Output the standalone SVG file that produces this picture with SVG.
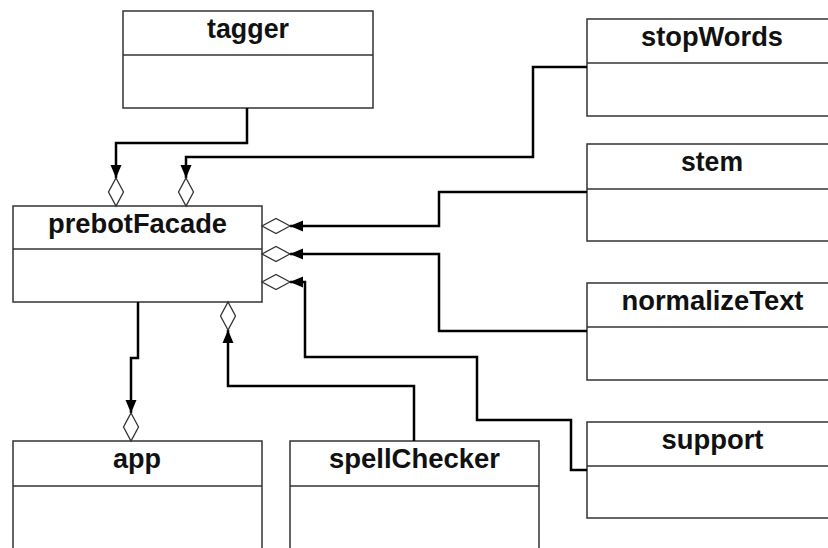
<svg xmlns="http://www.w3.org/2000/svg" width="828" height="548" viewBox="0 0 828 548">
<style>
.box{fill:#fff;stroke:#333;stroke-width:1.5}
.div{stroke:#333;stroke-width:1.5}
.lbl{font-family:"Liberation Sans",Arial,sans-serif;font-weight:bold;font-size:27px;fill:#111;text-anchor:middle}
.conn{fill:none;stroke:#000;stroke-width:2.5;marker-end:url(#agg)}
</style>
<defs>
<marker id="agg" markerUnits="userSpaceOnUse" viewBox="-20 -10 50 20" markerWidth="50" markerHeight="20" refX="0" refY="0" orient="auto" overflow="visible">
<polygon points="-13,-5.5 0,0 -13,5.5" fill="#000"/>
<polygon points="0,0 14,-7.5 28,0 14,7.5" fill="#fff" stroke="#333" stroke-width="1.3"/>
</marker>
</defs>
<rect width="828" height="548" fill="#fff"/>
<g id="tagger">
<rect class="box" x="123" y="11" width="250" height="97"/>
<line class="div" x1="123" y1="55" x2="373" y2="55"/>
<text class="lbl" x="248" y="38" textLength="82" lengthAdjust="spacingAndGlyphs">tagger</text>
</g>
<g id="prebotFacade">
<rect class="box" x="13" y="206" width="249" height="96"/>
<line class="div" x1="13" y1="249" x2="262" y2="249"/>
<text class="lbl" x="137.5" y="233" textLength="179" lengthAdjust="spacingAndGlyphs">prebotFacade</text>
</g>
<g id="stopWords">
<rect class="box" x="587" y="19" width="250" height="97"/>
<line class="div" x1="587" y1="63" x2="837" y2="63"/>
<text class="lbl" x="712" y="46" textLength="142" lengthAdjust="spacingAndGlyphs">stopWords</text>
</g>
<g id="stem">
<rect class="box" x="587" y="144" width="250" height="97"/>
<line class="div" x1="587" y1="189" x2="837" y2="189"/>
<text class="lbl" x="712" y="171" textLength="62" lengthAdjust="spacingAndGlyphs">stem</text>
</g>
<g id="normalizeText">
<rect class="box" x="587" y="283" width="250" height="97"/>
<line class="div" x1="587" y1="327" x2="837" y2="327"/>
<text class="lbl" x="712.5" y="310" textLength="182" lengthAdjust="spacingAndGlyphs">normalizeText</text>
</g>
<g id="support">
<rect class="box" x="587" y="422" width="250" height="96"/>
<line class="div" x1="587" y1="466" x2="837" y2="466"/>
<text class="lbl" x="712.5" y="449" textLength="102" lengthAdjust="spacingAndGlyphs">support</text>
</g>
<g id="app">
<rect class="box" x="13" y="441" width="249" height="130"/>
<line class="div" x1="13" y1="486" x2="262" y2="486"/>
<text class="lbl" x="137" y="468" textLength="48" lengthAdjust="spacingAndGlyphs">app</text>
</g>
<g id="spellChecker">
<rect class="box" x="290" y="441" width="249" height="130"/>
<line class="div" x1="290" y1="486" x2="539" y2="486"/>
<text class="lbl" x="414.5" y="468" textLength="171" lengthAdjust="spacingAndGlyphs">spellChecker</text>
</g>
<g id="connectors">
<path class="conn" d="M247,108 V143 H116 V178"/>
<path class="conn" d="M587,67 H533 V157 H186 V178"/>
<path class="conn" d="M587,192 H439 V226 H290"/>
<path class="conn" d="M587,331 H439 V254 H290"/>
<path class="conn" d="M587,470 H571 V420 H477 V357 H305 V282 H290"/>
<path class="conn" d="M414,441 V386 H228 V330"/>
<path class="conn" d="M138,302 V358 H131 V413"/>
</g>
</svg>
